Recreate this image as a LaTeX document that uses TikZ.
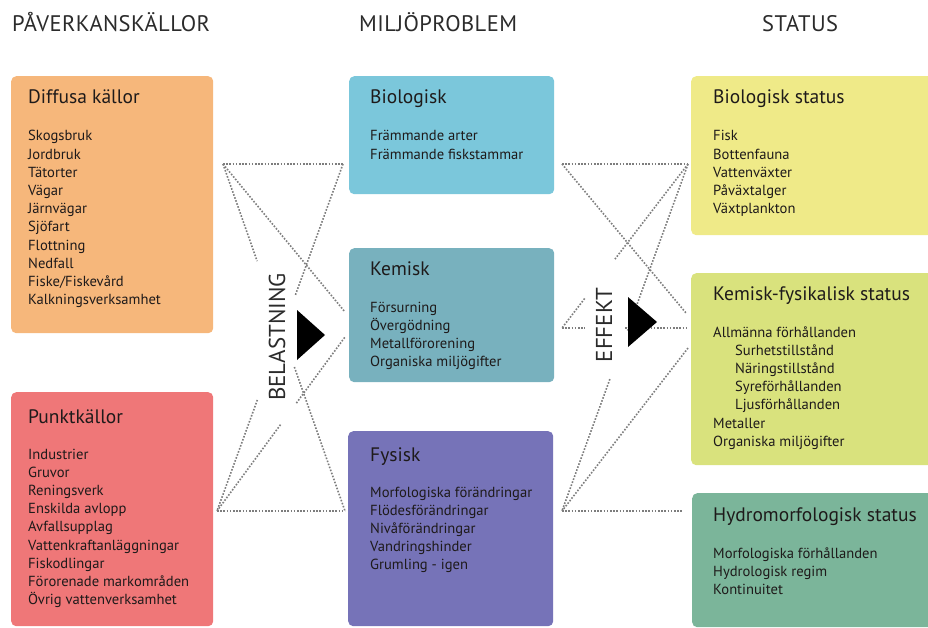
\documentclass[tikz,border=0pt]{standalone}
\usepackage{fontspec}
\setmainfont{PT Sans}
\usepackage{tikz}
\usetikzlibrary{calc}
\definecolor{ink}{HTML}{1E1A1A}
\definecolor{head}{HTML}{2B2B2B}
\definecolor{dots}{HTML}{7D7D7D}
\definecolor{diffus}{HTML}{F6B77B}
\definecolor{punkt}{HTML}{EF7778}
\definecolor{biol}{HTML}{7BC7DB}
\definecolor{kem}{HTML}{78B1BE}
\definecolor{fys}{HTML}{7673B8}
\definecolor{biostat}{HTML}{EFEA88}
\definecolor{kemstat}{HTML}{D9E27D}
\definecolor{hydstat}{HTML}{7BB59A}
\tikzset{
  box/.style={rounded corners=5pt, anchor=north west, inner sep=0pt},
  colhead/.style={anchor=base west, inner sep=0pt, text=head,
    font=\fontsize{22.5}{26}\selectfont\addfontfeatures{LetterSpace=2}},
  boxtitle/.style={anchor=base west, inner sep=0pt, text=ink, font=\fontsize{19.5}{22}\selectfont},
  item/.style={anchor=base west, inner sep=0pt, text=ink, font=\fontsize{14.6}{17}\selectfont},
  link/.style={draw=dots, line width=1.6pt, dash pattern=on 1.6pt off 1.6pt},
  vlabel/.style={rotate=90, inner sep=0pt, text=head, font=\fontsize{23}{26}\selectfont},
  tip/.style={fill=black}
}

\begin{document}
\begin{tikzpicture}[x=1pt,y=-1pt]
  \useasboundingbox (0,0) rectangle (928,628);

  % column heads
  \node[colhead] (h-pav) at (12,31.5) {PÅVERKANSKÄLLOR};
  \node[colhead] (h-mil) at (359,31.5) {MILJÖPROBLEM};
  \node[colhead] (h-sta) at (762,31.5) {STATUS};

  % boxes
  \node[box, fill=diffus, minimum width=202pt, minimum height=257pt] (dif) at (11,76) {};
  \node[box, fill=punkt, minimum width=202pt, minimum height=234pt] (pun) at (11,392) {};
  \node[box, fill=biol, minimum width=205pt, minimum height=118pt] (bio) at (349,76) {};
  \node[box, fill=kem, minimum width=205pt, minimum height=134pt] (kem) at (349,248) {};
  \node[box, fill=fys, minimum width=205pt, minimum height=195pt] (fys) at (348,431) {};
  \node[box, fill=biostat, minimum width=245pt, minimum height=159pt] (bst) at (691,76) {};
  \node[box, fill=kemstat, minimum width=245pt, minimum height=192pt] (kst) at (691,273) {};
  \node[box, fill=hydstat, minimum width=244pt, minimum height=134pt] (hst) at (692,493) {};

  \node[boxtitle] (dif-t) at (28,104) {Diffusa källor};
  \foreach \t [count=\i from 0] in {Skogsbruk,Jordbruk,Tätorter,Vägar,Järnvägar,Sjöfart,
      Flottning,Nedfall,Fiske/Fiskevård,Kalkningsverksamhet}
    \node[item] (dif-\i) at (28,{141+18.2*\i}) {\t};

  \node[boxtitle] (pun-t) at (28,423) {Punktkällor};
  \foreach \t [count=\i from 0] in {Industrier,Gruvor,Reningsverk,Enskilda avlopp,Avfallsupplag,
      Vattenkraftanläggningar,Fiskodlingar,Förorenade markområden,Övrig vattenverksamhet}
    \node[item] (pun-\i) at (28,{459+18.2*\i}) {\t};

  \node[boxtitle] (bio-t) at (370,104) {Biologisk};
  \foreach \t [count=\i from 0] in {Främmande arter,Främmande fiskstammar}
    \node[item] (bio-\i) at (370,{141+18.2*\i}) {\t};

  \node[boxtitle] (kem-t) at (370,275) {Kemisk};
  \foreach \t [count=\i from 0] in {Försurning,Övergödning,Metallförorening,Organiska miljögifter}
    \node[item] (kem-\i) at (370,{312+18.2*\i}) {\t};

  \node[boxtitle] (fys-t) at (370,461) {Fysisk};
  \foreach \t [count=\i from 0] in {Morfologiska förändringar,Flödesförändringar,Nivåförändringar,
      Vandringshinder,Grumling - igen}
    \node[item] (fys-\i) at (370,{497+18.2*\i}) {\t};

  \node[boxtitle] (bst-t) at (713,104) {Biologisk status};
  \foreach \t [count=\i from 0] in {Fisk,Bottenfauna,Vattenväxter,Påväxtalger,Växtplankton}
    \node[item] (bst-\i) at (713,{141+18.2*\i}) {\t};

  \node[boxtitle] (kst-t) at (713,300) {Kemisk-fysikalisk status};
  \foreach \t/\dx [count=\i from 0] in {Allmänna förhållanden/0,Surhetstillstånd/22,
      Näringstillstånd/22,Syreförhållanden/22,Ljusförhållanden/22,Metaller/0,Organiska miljögifter/0}
    \node[item] (kst-\i) at ({713+\dx},{337+18.2*\i}) {\t};

  \node[boxtitle] (hst-t) at (713,521) {Hydromorfologisk status};
  \foreach \t [count=\i from 0] in {Morfologiska förhållanden,Hydrologisk regim,Kontinuitet}
    \node[item] (hst-\i) at (713,{558+18.2*\i}) {\t};

  % link ends, left gap
  \coordinate (difOut) at (223,164);
  \coordinate (punOut) at (217,511);
  \coordinate (bioIn) at (343,164);
  \coordinate (kemInA) at (345,312);
  \coordinate (kemInB) at (345,337);
  \coordinate (fysIn) at (345,511);
  % link ends, right gap
  \coordinate (bioOut) at (562,164);
  \coordinate (kemOut) at (562,328);
  \coordinate (fysOut) at (562,511);
  \coordinate (bstIn) at (688,164);
  \coordinate (kstInA) at (686,313);
  \coordinate (kstInB) at (688,328);
  \coordinate (kstInC) at (688,348);
  \coordinate (hstIn) at (682,511);

  \draw[link] (difOut) -- (bioIn);
  \draw[link] (difOut) -- (kemInA);
  \draw[link] (difOut) -- ($(difOut)!0.28!(fysIn)$) ($(difOut)!0.585!(fysIn)$) -- (fysIn);
  \draw[link] (bioIn) -- ($(bioIn)!0.38!(punOut)$) ($(bioIn)!0.68!(punOut)$) -- (punOut);
  \draw[link] (punOut) -- ($(punOut)!0.5!(kemInB)$) ($(punOut)!0.62!(kemInB)$) -- (kemInB);
  \draw[link] (punOut) -- (fysIn);

  \draw[link] (bioOut) -- (bstIn);
  \draw[link] (bioOut) -- (kstInA);
  \draw[link] (bstIn) -- ($(bstIn)!0.58!(kemOut)$) ($(bstIn)!0.82!(kemOut)$) -- (kemOut);
  \draw[link] (bstIn) -- ($(bstIn)!0.48!(fysOut)$) ($(bstIn)!0.62!(fysOut)$) -- (fysOut);
  \draw[link] (kemOut) -- ($(kemOut)!0.18!(kstInB)$) ($(kemOut)!0.5!(kstInB)$) -- (kstInB);
  \draw[link] (kstInC) -- (fysOut);
  \draw[link] (fysOut) -- (hstIn);

  % labels and arrow heads
  \node[vlabel] (belast) at (277,337) {BELASTNING};
  \fill[tip] (297,310) -- (297,360) -- (325,335) -- cycle;
  \node[vlabel] (effekt) at (604,325) {EFFEKT};
  \fill[tip] (628,297) -- (628,347) -- (657,322) -- cycle;
\end{tikzpicture}
\end{document}
